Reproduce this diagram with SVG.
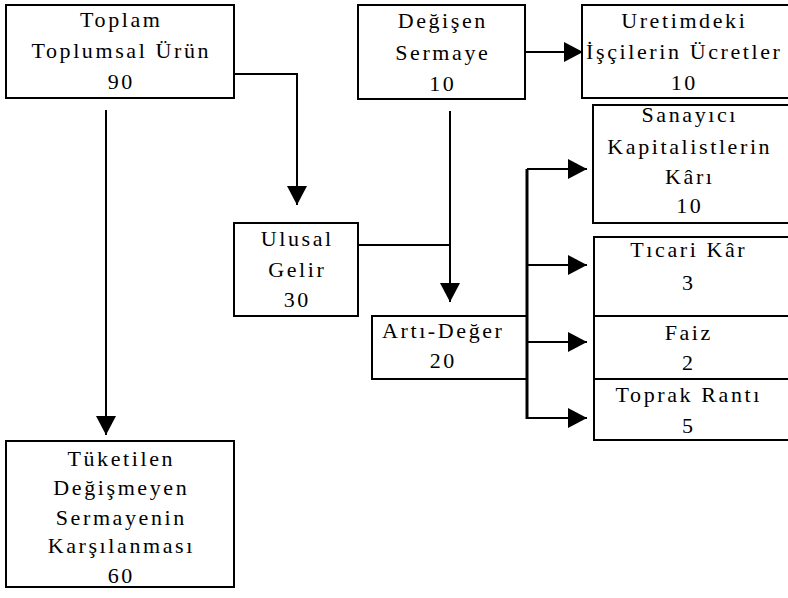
<svg xmlns="http://www.w3.org/2000/svg" width="788" height="598" viewBox="0 0 788 598">
<style>
.box{fill:#fff;stroke:#000;stroke-width:2}
.t{font-family:"Liberation Serif","Times New Roman",serif;font-size:22px;letter-spacing:2.6px;text-anchor:middle;fill:#000}
.c{fill:none;stroke:#000;stroke-width:2}
.bus{fill:none;stroke:#000;stroke-width:3}
</style>
<defs>
<marker id="ah" markerUnits="userSpaceOnUse" markerWidth="20" markerHeight="22" viewBox="0 0 20 22" refX="19" refY="11" orient="auto">
<path d="M0,1 L19,11 L0,21 z" fill="#000"/>
</marker>
</defs>
<rect width="788" height="598" fill="#fff"/>
<g id="n-toplam">
<rect class="box" x="6" y="5" width="228" height="93"/>
<text class="t" x="121.3" y="27">Toplam</text>
<text class="t" x="121.3" y="58">Toplumsal Ürün</text>
<text class="t" x="121.3" y="89">90</text>
</g>
<g id="n-degisen">
<rect class="box" x="358" y="5" width="167" height="94"/>
<text class="t" x="442.8" y="28">Değişen</text>
<text class="t" x="442.8" y="60">Sermaye</text>
<text class="t" x="442.8" y="91">10</text>
</g>
<g id="n-uretim">
<rect class="box" x="582" y="5" width="230" height="93"/>
<text class="t" x="684.3" y="28">Uretimdeki</text>
<text class="t" x="684.3" y="59">İşçilerin Ücretler</text>
<text class="t" x="684.3" y="90">10</text>
</g>
<g id="n-sanayici">
<rect class="box" x="593" y="105" width="220" height="118"/>
<text class="t" x="689.8" y="122">Sanayıcı</text>
<text class="t" x="689.8" y="154">Kapitalistlerin</text>
<text class="t" x="689.8" y="184">Kârı</text>
<text class="t" x="689.8" y="213">10</text>
</g>
<g id="n-ticari">
<rect class="box" x="594" y="237" width="220" height="79"/>
<text class="t" x="688.8" y="257">Tıcari Kâr</text>
<text class="t" x="688.8" y="290">3</text>
</g>
<g id="n-faiz">
<rect class="box" x="594" y="316" width="220" height="63"/>
<text class="t" x="688.8" y="340">Faiz</text>
<text class="t" x="688.8" y="370">2</text>
</g>
<g id="n-toprak">
<rect class="box" x="594" y="379" width="220" height="61"/>
<text class="t" x="688.8" y="402">Toprak Rantı</text>
<text class="t" x="688.8" y="433">5</text>
</g>
<g id="n-ulusal">
<rect class="box" x="234" y="223" width="124" height="93"/>
<text class="t" x="297.3" y="246">Ulusal</text>
<text class="t" x="297.3" y="277">Gelir</text>
<text class="t" x="297.3" y="307">30</text>
</g>
<g id="n-arti">
<rect class="box" x="372" y="316" width="155" height="63"/>
<text class="t" x="443.3" y="338">Artı-Değer</text>
<text class="t" x="443.3" y="368">20</text>
</g>
<g id="n-tuketilen">
<rect class="box" x="6" y="441" width="228" height="146"/>
<text class="t" x="121.3" y="466">Tüketilen</text>
<text class="t" x="121.3" y="495">Değişmeyen</text>
<text class="t" x="121.3" y="525">Sermayenin</text>
<text class="t" x="121.3" y="553">Karşılanması</text>
<text class="t" x="121.3" y="583">60</text>
</g>
<g id="connectors">
<path class="c" d="M234,74 H297 V205" marker-end="url(#ah)"/>
<path class="c" d="M106,110 V435" marker-end="url(#ah)"/>
<path class="c" d="M525,52 H583" marker-end="url(#ah)"/>
<path class="c" d="M450,111 V302" marker-end="url(#ah)"/>
<path class="c" d="M358,245 H450"/>
<path class="bus" d="M527,169 V419"/>
<path class="c" d="M527,169 H587" marker-end="url(#ah)"/>
<path class="c" d="M527,265 H587" marker-end="url(#ah)"/>
<path class="c" d="M527,342 H587" marker-end="url(#ah)"/>
<path class="c" d="M527,418 H587" marker-end="url(#ah)"/>
</g>
</svg>
